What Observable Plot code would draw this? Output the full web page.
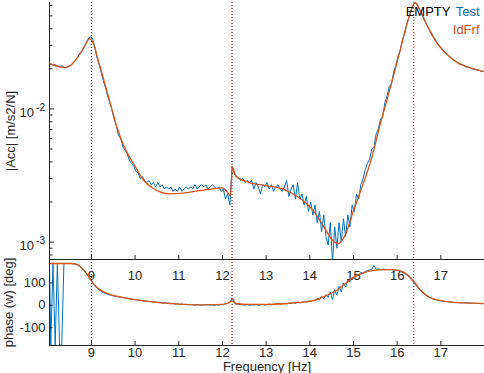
<!DOCTYPE html>
<html>
<head>
<meta charset="utf-8">
<script src="https://cdn.jsdelivr.net/npm/d3@7"></script>
<script src="https://cdn.jsdelivr.net/npm/@observablehq/plot@0.6"></script>
<style>
  html, body { margin: 0; padding: 0; background: #ffffff; }
  #chart { position: relative; width: 484px; height: 373px; overflow: hidden; }
  #chart svg { position: absolute; left: 0; overflow: visible; }
</style>
</head>
<body>
<div id="chart"></div>
<script>
// ---------- data ----------
const xTicks = [9, 10, 11, 12, 13, 14, 15, 16, 17];
const magMajorTicks = [0.001, 0.01];
const magMajorBase = ["10", "10"];
const magMajorExp = ["-3", "-2"];
const magMinorTicks = [0.0008, 0.0009, 0.002, 0.003, 0.004, 0.005, 0.006, 0.007, 0.008, 0.009, 0.02, 0.03, 0.04, 0.05, 0.06];
const phaseTicks = [-100, 0, 100];
const markerFreqs = [9.0, 12.22, 16.38];
const legendLabels = ["EMPTY", "Test", "IdFrf"];
const xLabel = "Frequency [Hz]";
const magLabel = "|Acc| [m/s2/N]";
const phaseLabel = "phase (w) [deg]";

// measured (Test) series
const testFreq = [
  8.04, 8.07, 8.12, 8.17, 8.22, 8.27, 8.32, 8.37, 8.42, 8.47, 8.52, 8.57, 8.62, 8.67, 8.72, 8.77, 8.82, 8.87, 8.92, 8.97,
  9.02, 9.07, 9.12, 9.17, 9.22, 9.27, 9.32, 9.37, 9.42, 9.47, 9.52, 9.57, 9.62, 9.67, 9.72, 9.77, 9.82, 9.87, 9.92, 9.97,
  10.02, 10.07, 10.12, 10.17, 10.22, 10.27, 10.32, 10.37, 10.42, 10.47, 10.52, 10.57, 10.62, 10.67, 10.72, 10.77, 10.82, 10.87, 10.92, 10.97,
  11.02, 11.07, 11.12, 11.17, 11.22, 11.27, 11.32, 11.37, 11.42, 11.47, 11.52, 11.57, 11.62, 11.67, 11.72, 11.77, 11.82, 11.87, 11.92, 11.97,
  12.02, 12.07, 12.12, 12.17, 12.22, 12.27, 12.32, 12.37, 12.42, 12.47, 12.52, 12.57, 12.62, 12.67, 12.72, 12.77, 12.82, 12.87, 12.92, 12.97,
  13.02, 13.07, 13.12, 13.17, 13.22, 13.27, 13.32, 13.37, 13.42, 13.47, 13.52, 13.57, 13.62, 13.67, 13.72, 13.77, 13.82, 13.87, 13.92, 13.97,
  14.02, 14.07, 14.12, 14.17, 14.22, 14.27, 14.32, 14.37, 14.42, 14.47, 14.52, 14.57, 14.62, 14.67, 14.72, 14.77, 14.82, 14.87, 14.92, 14.97,
  15.02, 15.07, 15.12, 15.17, 15.22, 15.27, 15.32, 15.37, 15.42, 15.47, 15.52, 15.57, 15.62, 15.67, 15.72, 15.77, 15.82, 15.87, 15.92, 15.97,
  16.02, 16.07, 16.12, 16.17, 16.22, 16.27, 16.32, 16.37, 16.42, 16.47, 16.52, 16.57, 16.62, 16.67, 16.72, 16.77, 16.82, 16.87, 16.92, 16.97,
  17.02, 17.07, 17.12, 17.17, 17.22, 17.27, 17.32, 17.37, 17.42, 17.47, 17.52, 17.57, 17.62, 17.67, 17.72, 17.77, 17.82, 17.87, 17.92, 17.97
];
const testMag = [
  0.0219, 0.0217, 0.0214, 0.0215, 0.0211, 0.0208, 0.0210, 0.0206, 0.0203, 0.0209, 0.0211, 0.0221, 0.0230, 0.0241, 0.0257, 0.0270, 0.0288, 0.0310, 0.0333, 0.0349,
  0.0341, 0.0300, 0.0248, 0.0218, 0.0190, 0.0163, 0.0146, 0.0125, 0.0112, 0.0098, 0.0084, 0.0075, 0.0063, 0.0060, 0.0052, 0.0049, 0.0046, 0.0041, 0.0039, 0.0037,
  0.0034, 0.0033, 0.0030, 0.0031, 0.0029, 0.0028, 0.0029, 0.0027, 0.0028, 0.0026, 0.0028, 0.0026, 0.0027, 0.0025, 0.0026, 0.0025, 0.0026, 0.0024, 0.0025, 0.0024,
  0.0026, 0.0024, 0.0025, 0.0026, 0.0025, 0.0026, 0.0025, 0.0027, 0.0025, 0.0026, 0.0027, 0.0026, 0.0027, 0.0025, 0.0026, 0.0027, 0.0026, 0.0025, 0.0026, 0.0024,
  0.0025, 0.0021, 0.0023, 0.0019, 0.0037, 0.0033, 0.0031, 0.0030, 0.0029, 0.0030, 0.0028, 0.0029, 0.0028, 0.0029, 0.0025, 0.0028, 0.0026, 0.0023, 0.0027, 0.0026,
  0.0028, 0.0025, 0.0027, 0.0024, 0.0026, 0.0027, 0.0025, 0.0024, 0.0026, 0.0029, 0.0022, 0.0025, 0.0027, 0.0021, 0.0028, 0.0021, 0.0023, 0.0019, 0.0022, 0.0017,
  0.0020, 0.0016, 0.0019, 0.0014, 0.0017, 0.0012, 0.0016, 0.0011, 0.00095, 0.0014, 0.00070, 0.0013, 0.00090, 0.0014, 0.0010, 0.0015, 0.0011, 0.0016, 0.0013, 0.0019,
  0.0017, 0.0023, 0.0021, 0.0027, 0.0030, 0.0035, 0.0039, 0.0042, 0.0050, 0.0052, 0.0065, 0.0071, 0.0084, 0.0088, 0.0112, 0.0126, 0.0148, 0.0155, 0.0190, 0.0212,
  0.0250, 0.0275, 0.0330, 0.0365, 0.0430, 0.0490, 0.0545, 0.0605, 0.0630, 0.0590, 0.0548, 0.0505, 0.0466, 0.0432, 0.0404, 0.0382, 0.0354, 0.0335, 0.0312, 0.0299,
  0.0285, 0.0271, 0.0262, 0.0251, 0.0245, 0.0238, 0.0229, 0.0226, 0.0218, 0.0217, 0.0213, 0.0206, 0.0207, 0.0204, 0.0199, 0.0200, 0.0196, 0.0196, 0.0192, 0.0191
];
const testPhase = [
  186, -179, 185, -178, 186, -179, -177, 186, 187, 187, 187, 186, 185, 182, 176, 168, 158, 147, 133, 118,
  103, 90, 78, 69, 63, 57, 53, 49, 46, 44, 41, 40, 38, 36, 34, 32, 31, 29, 28, 26,
  25, 24, 21, 22, 19, 19, 16, 17, 14, 15, 12, 13, 10, 12, 9, 9, 7, 8, 5, 7,
  4, 6, 3, 5, 2, 4, 3, 1, 3, 2, 0, 3, 1, 4, 0, 2, -1, 3, 1, 4,
  2, 6, 9, 15, 30, 10, 5, 4, 3, 2, 1, 3, 0, 2, 1, 3, 0, 2, 4, 1,
  3, 5, 2, 4, 6, 9, 5, 7, 9, 6, 10, 8, 12, 9, 14, 11, 13, 16, 14, 19,
  17, 23, 20, 30, 25, 38, 30, 48, 35, 60, 25, 70, 45, 85, 60, 100, 82, 115, 105, 125,
  120, 140, 135, 148, 143, 152, 155, 158, 162, 178, 160, 163, 159, 162, 160, 161, 159, 160, 158, 157,
  156, 152, 148, 143, 136, 126, 116, 105, 92, 80, 70, 60, 51, 44, 38, 33, 29, 26, 23, 21,
  19, 18, 17, 16, 15, 14, 13, 13, 12, 12, 11, 11, 10, 10, 9, 9, 8, 8, 8, 7
];

// identified model (IdFrf) series
const fitFreq = [
  8.04, 8.2, 8.4, 8.55, 8.65, 8.75, 8.85, 8.95, 9.05, 9.15, 9.3, 9.45, 9.6, 9.8, 10.0, 10.2, 10.4, 10.6, 10.8, 11.1,
  11.4, 11.7, 12.0, 12.1, 12.18, 12.23, 12.3, 12.6, 13.0, 13.4, 13.75, 14.05, 14.3, 14.5, 14.65, 14.8, 15.0, 15.2, 15.4, 15.6,
  15.85, 16.05, 16.25, 16.41, 16.55, 16.7, 16.9, 17.15, 17.4, 17.65, 18.0
];
const fitMag = [
  0.0220, 0.0210, 0.0205, 0.0216, 0.0236, 0.0262, 0.0297, 0.0336, 0.0307, 0.0235, 0.0158, 0.0105, 0.0070, 0.0048, 0.0037, 0.0029, 0.00255, 0.00236, 0.0023, 0.00233,
  0.00241, 0.00249, 0.00255, 0.00240, 0.00223, 0.00365, 0.00315, 0.00281, 0.00266, 0.00249, 0.00216, 0.00177, 0.00134, 0.00105, 0.00097, 0.00111, 0.00172, 0.00262, 0.0041, 0.0074,
  0.0147, 0.0260, 0.0465, 0.0630, 0.0530, 0.0415, 0.0316, 0.0255, 0.0221, 0.0205, 0.0190
];
const fitPhase = [
  187, 187, 187, 187, 184, 173, 152, 125, 97, 76, 58, 47, 40, 32, 25, 20, 15, 11, 8, 4,
  2, 2, 4, 8, 16, 30, 8, 4, 4, 7, 13, 20, 37, 55, 72, 95, 125, 143, 154, 159,
  160, 155, 135, 100, 65, 40, 25, 16, 12, 10, 7
];

// ---------- style ----------
const FONT = "'Liberation Sans', Arial, Helvetica, sans-serif";
const AX = "#262626";
const BLUE = "#0072BD";
const ORANGE = "#D95319";
const W = 484, ML = 49, MR = 0;
const xDomain = [8.04, 18];
const magDomain = [7.4e-4, 0.063];
const phaseDomain = [-180, 205];

const TOP_H = 290, TOP_MT = 2, TOP_MB = 31;
const BOT_H = 114, BOT_MT = 0, BOT_MB = 28, BOT_TOP = 259;
const frameW = W - ML - MR;
const topFrameH = TOP_H - TOP_MT - TOP_MB;
const botFrameH = BOT_H - BOT_MT - BOT_MB;

function markerRules() {
  return [
    Plot.ruleX(markerFreqs.slice(0, 2), {x: d => d, stroke: "#8b0a0a", strokeDasharray: "1,2", strokeWidth: 1.1}),
    Plot.ruleX(markerFreqs.slice(2), {x: d => d, stroke: "#ff0000", strokeDasharray: "1,2", strokeWidth: 1})
  ];
}

const plotStyle = {fontFamily: FONT, fontSize: "13px", color: AX, background: "transparent", overflow: "visible"};

const magPlot = Plot.plot({
  width: W, height: TOP_H,
  marginTop: TOP_MT, marginBottom: TOP_MB, marginLeft: ML, marginRight: MR,
  style: plotStyle,
  x: {domain: xDomain, axis: null},
  y: {type: "log", domain: magDomain, axis: null},
  marks: [
    ...markerRules(),
    Plot.line(testFreq, {x: testFreq, y: testMag, stroke: BLUE, strokeWidth: 1, clip: true}),
    Plot.line(fitFreq, {x: fitFreq, y: fitMag, stroke: ORANGE, strokeWidth: 1.3, curve: "monotone-x", clip: true}),
    Plot.ruleX([xDomain[0]], {stroke: AX}),
    Plot.ruleY([magDomain[0]], {stroke: AX}),
    Plot.tickX(xTicks, {x: d => d, stroke: AX, insetTop: topFrameH - 4}),
    Plot.tickY(magMajorTicks, {y: d => d, stroke: AX, insetRight: frameW - 5}),
    Plot.tickY(magMinorTicks, {y: d => d, stroke: AX, insetRight: frameW - 3.5}),
    Plot.axisX(xTicks, {tickSize: 0, tickPadding: 11, label: null, tickFormat: d => String(d), fill: AX}),
    Plot.text(magMajorTicks, {y: d => d, frameAnchor: "left", text: (d, i) => magMajorBase[i], textAnchor: "end", lineAnchor: "middle", dx: -15.5, dy: 3.7, fill: AX, fontSize: 13}),
    Plot.text(magMajorTicks, {y: d => d, frameAnchor: "left", text: (d, i) => magMajorExp[i], textAnchor: "end", lineAnchor: "middle", dx: -4.5, dy: -1.5, fill: AX, fontSize: 10}),
    Plot.text([magLabel], {frameAnchor: "left", rotate: -90, textAnchor: "middle", lineAnchor: "bottom", dx: -(ML - 14.5), fill: AX, fontSize: 13}),
    Plot.text([legendLabels[1]], {frameAnchor: "top-right", textAnchor: "end", lineAnchor: "bottom", dx: -5, dy: 13.5, fill: BLUE, fontSize: 13}),
    Plot.text([legendLabels[0]], {frameAnchor: "top-right", textAnchor: "end", lineAnchor: "bottom", dx: -34, dy: 13.5, fill: "#000000", fontSize: 13}),
    Plot.text([legendLabels[2]], {frameAnchor: "top-right", textAnchor: "end", lineAnchor: "bottom", dx: -5, dy: 31, fill: ORANGE, fontSize: 13})
  ]
});

const phasePlot = Plot.plot({
  width: W, height: BOT_H,
  marginTop: BOT_MT, marginBottom: BOT_MB, marginLeft: ML, marginRight: MR,
  style: plotStyle,
  x: {domain: xDomain, axis: null},
  y: {domain: phaseDomain, axis: null},
  marks: [
    ...markerRules(),
    Plot.line(testFreq, {x: testFreq, y: testPhase, stroke: BLUE, strokeWidth: 1, clip: true}),
    Plot.line(fitFreq, {x: fitFreq, y: fitPhase, stroke: ORANGE, strokeWidth: 1.3, curve: "monotone-x", clip: true}),
    Plot.ruleX([xDomain[0]], {stroke: AX}),
    Plot.ruleY([phaseDomain[0]], {stroke: AX}),
    Plot.tickX(xTicks, {x: d => d, stroke: AX, insetTop: botFrameH - 4}),
    Plot.tickY(phaseTicks, {y: d => d, stroke: AX, insetRight: frameW - 3.5}),
    Plot.axisX(xTicks, {tickSize: 0, tickPadding: 2, label: null, tickFormat: d => String(d), fill: AX}),
    Plot.axisY(phaseTicks, {tickSize: 0, tickPadding: 4, label: null, tickFormat: d => String(d), fill: AX}),
    Plot.text([xLabel], {frameAnchor: "bottom", textAnchor: "middle", lineAnchor: "top", dy: 16, fill: AX, fontSize: 13}),
    Plot.text([phaseLabel], {frameAnchor: "left", rotate: -90, textAnchor: "middle", lineAnchor: "bottom", dx: -(ML - 12.5), fill: AX, fontSize: 13})
  ]
});

magPlot.style.top = "0px";
phasePlot.style.top = BOT_TOP + "px";
const chart = document.getElementById("chart");
chart.appendChild(magPlot);
chart.appendChild(phasePlot);
</script>
</body>
</html>
